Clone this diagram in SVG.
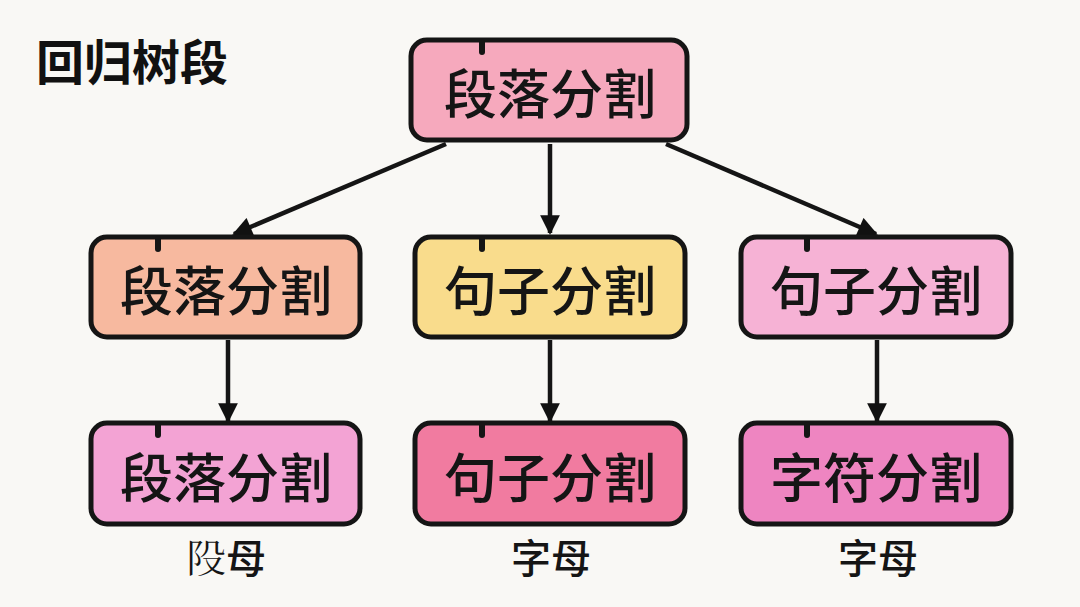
<svg xmlns="http://www.w3.org/2000/svg" width="1080" height="607" viewBox="0 0 1080 607">
<defs>
<marker id="ah" viewBox="0 0 10 10" refX="9" refY="5" markerWidth="4.6" markerHeight="4.4" markerUnits="strokeWidth" orient="auto">
<path d="M0,0 L10,5 L0,10 Z" fill="#111"/>
</marker>
</defs>
<style>
.box{stroke:#151515;stroke-width:5;}
.tab{stroke:#151515;stroke-width:6;stroke-linecap:round;}
.lbl{font-family:"Noto Sans CJK SC","Noto Sans",sans-serif;font-size:53px;font-weight:500;fill:#151515;text-anchor:middle;}
.sub{font-family:"Noto Sans CJK SC","Noto Sans",sans-serif;font-size:40px;font-weight:500;fill:#151515;text-anchor:middle;}
.title{font-family:"Noto Sans CJK SC","Noto Sans",sans-serif;font-size:48px;font-weight:700;fill:#111;}
.edge{stroke:#151515;stroke-width:4.5;fill:none;marker-end:url(#ah);}
</style>
<rect width="1080" height="607" fill="#f9f8f5"/>
<text class="title" x="36" y="80">回归树段</text>

<g id="connectors">
<line class="edge" x1="446" y1="144" x2="234" y2="234"/>
<line class="edge" x1="550" y1="144" x2="550" y2="233"/>
<line class="edge" x1="666" y1="144" x2="876" y2="234"/>
<line class="edge" x1="228" y1="340" x2="228" y2="421"/>
<line class="edge" x1="550" y1="340" x2="550" y2="421"/>
<line class="edge" x1="877" y1="340" x2="877" y2="421"/>
</g>

<g id="root">
<rect class="box" x="411" y="40" width="276" height="100" rx="16" fill="#f6a9bd"/>
<line class="tab" x1="482" y1="42" x2="482" y2="52"/>
<text class="lbl" x="550" y="114">段落分割</text>
</g>

<g id="mid-left">
<rect class="box" x="91" y="237" width="269" height="100" rx="16" fill="#f7b99f"/>
<line class="tab" x1="158" y1="239" x2="158" y2="249"/>
<text class="lbl" x="226" y="311">段落分割</text>
</g>

<g id="mid-center">
<rect class="box" x="415" y="237" width="270" height="100" rx="16" fill="#f9dc8c"/>
<line class="tab" x1="482" y1="239" x2="482" y2="249"/>
<text class="lbl" x="550" y="311">句子分割</text>
</g>

<g id="mid-right">
<rect class="box" x="741" y="237" width="270" height="100" rx="16" fill="#f6b2d5"/>
<line class="tab" x1="807" y1="239" x2="807" y2="249"/>
<text class="lbl" x="876" y="311">句子分割</text>
</g>

<g id="bot-left">
<rect class="box" x="91" y="423" width="269" height="101" rx="16" fill="#f3a3d4"/>
<line class="tab" x1="158" y1="425" x2="158" y2="435"/>
<text class="lbl" x="226" y="498">段落分割</text>
</g>

<g id="bot-center">
<rect class="box" x="415" y="423" width="270" height="101" rx="16" fill="#f17ba0"/>
<line class="tab" x1="482" y1="425" x2="482" y2="435"/>
<text class="lbl" x="550" y="498">句子分割</text>
</g>

<g id="bot-right">
<rect class="box" x="741" y="423" width="270" height="101" rx="16" fill="#ee85c1"/>
<line class="tab" x1="807" y1="425" x2="807" y2="435"/>
<text class="lbl" x="876" y="498">字符分割</text>
</g>

<g id="labels">
<text class="sub" x="226" y="573">𨸜母</text>
<text class="sub" x="551" y="573">字母</text>
<text class="sub" x="878" y="573">字母</text>
</g>
</svg>
